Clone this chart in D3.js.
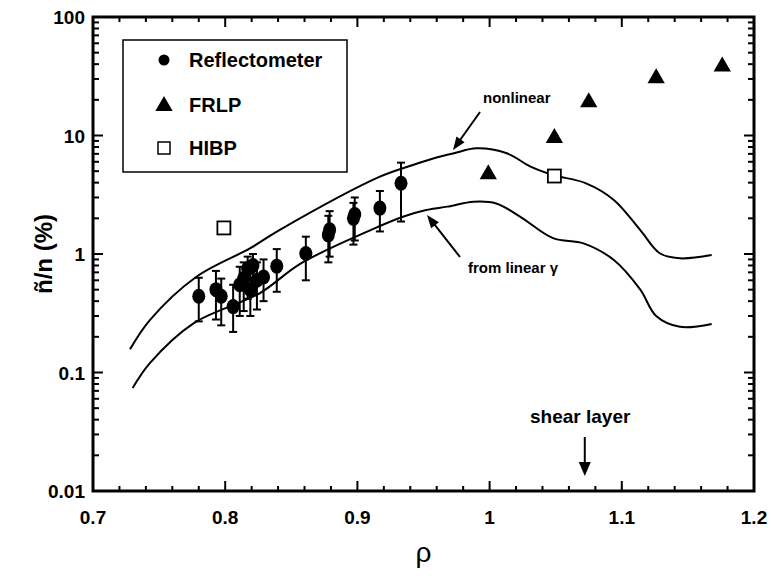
<!DOCTYPE html>
<html><head><meta charset="utf-8">
<script src="https://cdn.jsdelivr.net/npm/d3@7"></script>
<style>body{margin:0;background:#fff}svg{display:block}</style>
</head><body>
<svg id="c" width="771" height="576"></svg>
<script>
// ---- data ----
const reflRho = [0.780, 0.793, 0.797, 0.806, 0.811, 0.814, 0.817, 0.819, 0.821, 0.824, 0.829, 0.839, 0.861, 0.878, 0.879, 0.897, 0.898, 0.917, 0.933];
const reflVal = [0.44, 0.50, 0.44, 0.36, 0.55, 0.62, 0.75, 0.50, 0.80, 0.60, 0.64, 0.79, 1.01, 1.45, 1.60, 2.00, 2.15, 2.44, 3.95];
const reflLo  = [0.27, 0.28, 0.25, 0.22, 0.30, 0.33, 0.42, 0.30, 0.45, 0.34, 0.40, 0.48, 0.60, 0.85, 0.95, 1.20, 1.30, 1.55, 1.88];
const reflHi  = [0.63, 0.72, 0.62, 0.55, 0.78, 0.85, 0.95, 0.70, 1.00, 0.85, 0.90, 1.10, 1.40, 2.10, 2.30, 2.70, 3.00, 3.40, 5.90];
const frlpRho = [0.999, 1.049, 1.075, 1.126, 1.176];
const frlpVal = [4.8, 9.7, 19.5, 31, 39];
const hibpRho = [0.799, 1.049];
const hibpVal = [1.66, 4.55];
const nonlinRho = [0.728, 0.743, 0.778, 0.819, 0.841, 0.917, 0.942, 0.958, 0.973, 0.990, 1.013, 1.031, 1.048, 1.073, 1.094, 1.114, 1.129, 1.144, 1.168];
const nonlinVal = [0.157, 0.277, 0.64, 1.12, 1.59, 4.49, 5.64, 6.43, 7.08, 7.8, 7.08, 5.46, 4.64, 3.95, 2.86, 1.59, 1.01, 0.92, 0.98];
const linRho = [0.730, 0.743, 0.776, 0.826, 0.857, 0.910, 0.935, 0.952, 0.968, 0.988, 1.005, 1.023, 1.048, 1.071, 1.094, 1.114, 1.126, 1.144, 1.168];
const linVal = [0.074, 0.12, 0.26, 0.466, 0.83, 1.59, 2.07, 2.35, 2.51, 2.76, 2.67, 2.07, 1.36, 1.23, 0.89, 0.50, 0.30, 0.243, 0.257];
const xTicks = [0.7, 0.8, 0.9, 1.0, 1.1, 1.2];
const xTickLabels = ["0.7", "0.8", "0.9", "1", "1.1", "1.2"];
const yTicks = [0.01, 0.1, 1, 10, 100];
const yTickLabels = ["0.01", "0.1", "1", "10", "100"];
const legendLabels = ["Reflectometer", "FRLP", "HIBP"];

// ---- layout ----
const L = 93, R = 754, T = 17, B = 491;
const svg = d3.select("#c");
const x = d3.scaleLinear().domain([0.7, 1.2]).range([L, R]);
const y = d3.scaleLog().domain([0.01, 100]).range([B, T]);
const font = "'Liberation Sans', Arial, Helvetica, sans-serif";

// minor ticks
const xMinor = d3.range(0.72, 1.2, 0.02).filter(v => Math.abs(v*10 - Math.round(v*10)) > 1e-6);
const yMinor = [];
[0.01, 0.1, 1, 10].forEach(d => { for (let k = 2; k <= 9; k++) yMinor.push(d*k); });

const g = svg.append("g");
// bottom & top ticks
const tk = g.append("g").attr("stroke", "#000").attr("stroke-width", 2);
xTicks.forEach(v => {
  tk.append("line").attr("x1", x(v)).attr("x2", x(v)).attr("y1", B).attr("y2", B-10);
  tk.append("line").attr("x1", x(v)).attr("x2", x(v)).attr("y1", T).attr("y2", T+10);
});
xMinor.forEach(v => {
  tk.append("line").attr("x1", x(v)).attr("x2", x(v)).attr("y1", B).attr("y2", B-5);
  tk.append("line").attr("x1", x(v)).attr("x2", x(v)).attr("y1", T).attr("y2", T+5);
});
yTicks.forEach(v => {
  tk.append("line").attr("x1", L).attr("x2", L+10).attr("y1", y(v)).attr("y2", y(v));
  tk.append("line").attr("x1", R).attr("x2", R-10).attr("y1", y(v)).attr("y2", y(v));
});
yMinor.forEach(v => {
  tk.append("line").attr("x1", L).attr("x2", L+6).attr("y1", y(v)).attr("y2", y(v));
  tk.append("line").attr("x1", R).attr("x2", R-6).attr("y1", y(v)).attr("y2", y(v));
});
// frame
g.append("rect").attr("x", L).attr("y", T).attr("width", R-L).attr("height", B-T)
  .attr("fill", "none").attr("stroke", "#000").attr("stroke-width", 3);

// tick labels
xTicks.forEach((v, i) => {
  g.append("text").attr("x", x(v)).attr("y", B+33).attr("text-anchor", "middle")
    .attr("font-family", font).attr("font-weight", "bold").attr("font-size", 19).text(xTickLabels[i]);
});
yTicks.forEach((v, i) => {
  g.append("text").attr("x", L-8).attr("y", y(v)+7).attr("text-anchor", "end")
    .attr("font-family", font).attr("font-weight", "bold").attr("font-size", 19).text(yTickLabels[i]);
});
// axis titles
g.append("text").attr("transform", `translate(52,${(T+B)/2}) rotate(-90)`).attr("text-anchor", "middle")
  .attr("font-family", font).attr("font-weight", "bold").attr("font-size", 24).text("ñ/n (%)");
g.append("text").attr("x", (L+R)/2).attr("y", 562).attr("text-anchor", "middle")
  .attr("font-family", font).attr("font-size", 28).text("ρ");

// curves
const line = d3.line().x(d => x(d[0])).y(d => y(d[1])).curve(d3.curveCatmullRom);
g.append("path").datum(nonlinRho.map((r, i) => [r, nonlinVal[i]])).attr("d", line)
  .attr("fill", "none").attr("stroke", "#000").attr("stroke-width", 2);
g.append("path").datum(linRho.map((r, i) => [r, linVal[i]])).attr("d", line)
  .attr("fill", "none").attr("stroke", "#000").attr("stroke-width", 2);

// error bars
const eb = g.append("g").attr("stroke", "#000").attr("stroke-width", 2);
reflRho.forEach((r, i) => {
  eb.append("line").attr("x1", x(r)).attr("x2", x(r)).attr("y1", y(reflLo[i])).attr("y2", y(reflHi[i]));
  eb.append("line").attr("x1", x(r)-4).attr("x2", x(r)+4).attr("y1", y(reflLo[i])).attr("y2", y(reflLo[i]));
  eb.append("line").attr("x1", x(r)-4).attr("x2", x(r)+4).attr("y1", y(reflHi[i])).attr("y2", y(reflHi[i]));
});
reflRho.forEach((r, i) => {
  g.append("ellipse").attr("cx", x(r)).attr("cy", y(reflVal[i])).attr("rx", 6.5).attr("ry", 7.5).attr("fill", "#000");
});
// FRLP triangles
const tri = d3.symbol().type(d3.symbolTriangle).size(130);
frlpRho.forEach((r, i) => {
  g.append("path").attr("d", tri()).attr("transform", `translate(${x(r)},${y(frlpVal[i])+1})`).attr("fill", "#000");
});
// HIBP squares
hibpRho.forEach((r, i) => {
  g.append("rect").attr("x", x(r)-6.5).attr("y", y(hibpVal[i])-6.5).attr("width", 13).attr("height", 13)
    .attr("fill", "#fff").attr("stroke", "#000").attr("stroke-width", 1.8);
});

// legend
const lg = g.append("g");
lg.append("rect").attr("x", 123).attr("y", 40).attr("width", 224).attr("height", 132)
  .attr("fill", "#fff").attr("stroke", "#000").attr("stroke-width", 1.5);
const ly = [60, 105, 148];
lg.append("circle").attr("cx", 164).attr("cy", ly[0]).attr("r", 5.5).attr("fill", "#000");
lg.append("path").attr("d", tri()).attr("transform", `translate(164,${ly[1]+1})`).attr("fill", "#000");
lg.append("rect").attr("x", 158).attr("y", ly[2]-6).attr("width", 12).attr("height", 12)
  .attr("fill", "#fff").attr("stroke", "#000").attr("stroke-width", 1.5);
legendLabels.forEach((t, i) => {
  lg.append("text").attr("x", 189).attr("y", ly[i]+7).attr("font-family", font).attr("font-size", 20)
    .attr("font-weight", "bold").text(t);
});

// annotations
const ann = g.append("g").attr("font-family", font).attr("font-weight", "bold");
ann.append("text").attr("x", 483).attr("y", 103).attr("font-size", 15).text("nonlinear");
ann.append("text").attr("x", 468).attr("y", 273).attr("font-size", 15).text("from linear γ");
ann.append("text").attr("x", 530).attr("y", 423).attr("font-size", 19).text("shear layer");

function arrow(x1, y1, x2, y2, hl, hw) {
  const a = Math.atan2(y2-y1, x2-x1);
  g.append("line").attr("x1", x1).attr("y1", y1).attr("x2", x2 - Math.cos(a)*hl*0.8).attr("y2", y2 - Math.sin(a)*hl*0.8)
    .attr("stroke", "#000").attr("stroke-width", 2);
  const bx = x2 - Math.cos(a)*hl, by = y2 - Math.sin(a)*hl;
  const px = -Math.sin(a)*hw, py = Math.cos(a)*hw;
  g.append("path").attr("d", `M${x2},${y2}L${bx+px},${by+py}L${bx-px},${by-py}Z`).attr("fill", "#000");
}
arrow(480, 112, 453, 150, 13, 5);
arrow(460, 257, 427, 215, 13, 5);
arrow(x(1.072), 437, x(1.072), 476, 14, 6);
</script>
</body></html>
